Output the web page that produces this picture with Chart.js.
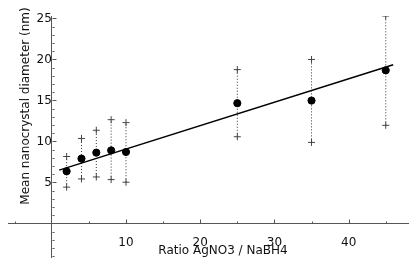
<!DOCTYPE html>
<html>
<head>
<meta charset="utf-8">
<script src="https://cdn.jsdelivr.net/npm/chart.js@4.4.0/dist/chart.umd.min.js"></script>
<style>
  html, body { margin: 0; padding: 0; background: #fff; }
  canvas { display: block; }
</style>
</head>
<body>
<canvas id="sizeChart" width="415" height="270"></canvas>
<script>
// Nanocrystal size vs AgNO3/NaBH4 ratio — mean diameter, min/max range, linear fit
const ratios = [2, 4, 6, 8, 10, 25, 35, 45]
const meanDiam = [6.35, 7.9, 8.63, 8.9, 8.71, 14.66, 14.98, 18.67]
const minDiam = [4.42, 5.42, 5.66, 5.34, 5.02, 10.57, 9.88, 11.96]
const maxDiam = [8.16, 10.36, 11.36, 12.65, 12.29, 18.76, 20.0, 25.3]
const fitX = [1, 46]
const fitY = [6.5, 19.35]
const xTickLabels = [10, 20, 30, 40]
const yTickLabels = [5, 10, 15, 20, 25]

const FONT = '"DejaVu Sans", sans-serif'
const AXIS = '#555'

// inward tick marks (matplotlib style) + axis titles
const axisDecor = {
  id: 'axisDecor',
  afterDraw(chart) {
    const { ctx, scales: { x, y } } = chart
    const x0 = Math.round(x.getPixelForValue(0)) + 0.5
    const y0 = Math.round(y.getPixelForValue(0)) + 0.5
    ctx.save()
    ctx.strokeStyle = AXIS
    ctx.lineWidth = 1
    ctx.beginPath()
    for (let v = Math.ceil(y.min); v <= y.max; v++) {
      if (v === 0) continue
      const py = Math.round(y.getPixelForValue(v)) + 0.5
      const len = v % 5 === 0 ? 4 : 2
      ctx.moveTo(x0, py); ctx.lineTo(x0 + len, py)
    }
    for (let v = Math.ceil(x.min / 5) * 5; v <= x.max; v += 5) {
      if (v === 0) continue
      const px = Math.round(x.getPixelForValue(v)) + 0.5
      const len = v % 10 === 0 ? 4 : 2
      ctx.moveTo(px, y0); ctx.lineTo(px, y0 - len)
    }
    ctx.stroke()

    ctx.fillStyle = '#111'
    ctx.font = '12px ' + FONT
    ctx.textAlign = 'center'
    ctx.textBaseline = 'alphabetic'
    ctx.fillText('Ratio AgNO3 / NaBH4', 223, 254)
    ctx.translate(28.5, 106)
    ctx.rotate(-Math.PI / 2)
    ctx.fillText('Mean nanocrystal diameter (nm)', 0, 0)
    ctx.restore()
  }
}

const rangeSets = ratios.map((r, i) => ({
  type: 'line',
  data: [{ x: r, y: minDiam[i] }, { x: r, y: maxDiam[i] }],
  borderColor: '#333',
  borderWidth: 1,
  borderDash: [1, 2],
  pointStyle: 'cross',
  pointRadius: 3.5,
  pointBorderColor: '#444',
  pointBorderWidth: 1
}))

new Chart(document.getElementById('sizeChart'), {
  type: 'scatter',
  data: {
    datasets: [
      {
        data: ratios.map((r, i) => ({ x: r, y: meanDiam[i] })),
        backgroundColor: '#000',
        borderColor: '#000',
        pointRadius: 3.6
      },
      {
        type: 'line',
        data: fitX.map((v, i) => ({ x: v, y: fitY[i] })),
        borderColor: '#000',
        borderWidth: 1.5,
        pointRadius: 0
      },
      ...rangeSets
    ]
  },
  options: {
    responsive: false,
    animation: false,
    devicePixelRatio: 1,
    layout: { padding: { left: 8, right: 7, top: 16, bottom: 9 } },
    plugins: { legend: { display: false }, tooltip: { enabled: false } },
    scales: {
      x: {
        type: 'linear',
        position: { y: 0 },
        min: -5.9,
        max: 48,
        grid: { display: false },
        border: { color: AXIS, width: 1 },
        ticks: {
          stepSize: 5,
          includeBounds: false,
          autoSkip: false,
          maxRotation: 0,
          padding: 4,
          color: '#111',
          font: { family: FONT, size: 12 },
          callback: (v) => xTickLabels.includes(v) ? String(v) : ''
        }
      },
      y: {
        type: 'linear',
        position: { x: 0 },
        min: -4.2,
        max: 25.3,
        grid: { display: false },
        border: { color: AXIS, width: 1 },
        ticks: {
          stepSize: 5,
          includeBounds: false,
          autoSkip: false,
          padding: 5,
          color: '#111',
          font: { family: FONT, size: 12 },
          callback: (v) => yTickLabels.includes(v) ? String(v) : ''
        }
      }
    }
  },
  plugins: [axisDecor]
})
</script>
</body>
</html>
